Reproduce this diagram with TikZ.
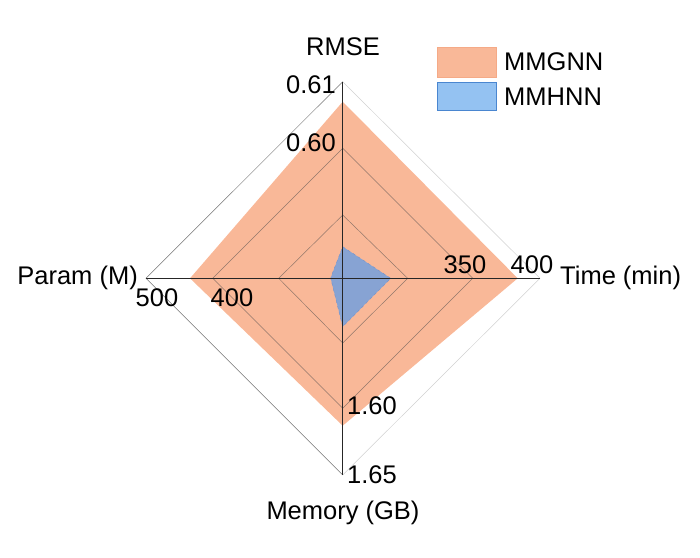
\documentclass[tikz,border=0pt]{standalone}
\usepackage{fontspec}
\setmainfont{Liberation Sans}
\begin{document}
\begin{tikzpicture}[x=1pt,y=-1pt,
  lab/.style={font=\fontsize{25.5}{28}\selectfont,inner sep=0pt},
  grid/.style={draw=black!70,line width=0.5pt},
  axis/.style={draw=black!85,line width=0.9pt}]
\useasboundingbox (0,0) rectangle (700,557);
\coordinate (c) at (342.7,278.3);
% orange polygon
\fill[fill={rgb,255:red,249;green,184;blue,152}] (342.7,101.7) -- (517.7,278.3) -- (342.7,425.7) -- (190,278.3) -- cycle;
% blue polygon
\filldraw[fill={rgb,255:red,135;green,163;blue,211},draw={rgb,255:red,110;green,145;blue,205},line width=0.4pt,dashed] (342.7,246.7) -- (390.7,278.3) -- (342.7,326.7) -- (330.7,278.3) -- (332.5,273) -- cycle;
% grid
\draw[grid,draw=black!55] (342.7,81.7) -- (146,278.3) -- (342.7,475);
\draw[grid,draw=black!18] (342.7,81.7) -- (540,278.3) -- (342.7,475);
\draw[grid,opacity=0.6] (342.7,148.3) -- (472.7,278.3) -- (342.7,408.3) -- (212.7,278.3) -- cycle;
\draw[grid,opacity=0.6] (342.7,215) -- (407.7,278.3) -- (342.7,343) -- (278.7,278.3) -- cycle;
\draw[axis] (342.7,81.7) -- (342.7,475);
\draw[axis] (146,278.3) -- (540,278.3);
% labels
\node[lab] (rmse) at (343,47) {RMSE};
\node[lab,anchor=east] (a61) at (336,85) {0.61};
\node[lab,anchor=east] (a60) at (336,143) {0.60};
\node[lab] (t350) at (465,265) {350};
\node[lab] (t400) at (532,265) {400};
\node[lab,anchor=west] (time) at (560,278) {Time (min)};
\node[lab,anchor=east] (param) at (138,278) {Param (M)};
\node[lab] (p500) at (157,298) {500};
\node[lab] (p400) at (232,298) {400};
\node[lab,anchor=west] (m160) at (347,406) {1.60};
\node[lab,anchor=west] (m165) at (347,475) {1.65};
\node[lab] (mem) at (343,513) {Memory (GB)};
% legend
\filldraw[fill={rgb,255:red,249;green,184;blue,152},draw={rgb,255:red,245;green,170;blue,135}] (437,47) rectangle (496,77);
\filldraw[fill={rgb,255:red,148;green,194;blue,242},draw={rgb,255:red,74;green,134;blue,208}] (437,82) rectangle (496,110);
\node[lab,anchor=west] (l1) at (504,62) {MMGNN};
\node[lab,anchor=west] (l2) at (504,97) {MMHNN};
\end{tikzpicture}
\end{document}
